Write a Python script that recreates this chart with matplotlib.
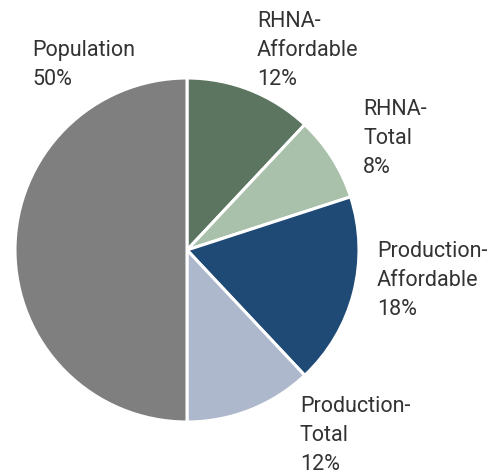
import matplotlib
matplotlib.use("Agg")
import matplotlib.pyplot as plt

# Share of each component (percent), clockwise from 12 o'clock
names = ["RHNA-\nAffordable", "RHNA-\nTotal", "Production-\nAffordable",
         "Production-\nTotal", "Population"]
shares = [12, 8, 18, 12, 50]
colors = ["#5b7560", "#a9c1ab", "#1f4a75", "#adb8cc", "#7f7f7f"]

# label anchor (last-line baseline) in pixel coords of the 498x474 image
label_px = [(257, 85), (363, 173), (377, 315), (300, 470), (32, 85)]

plt.rcParams['font.family'] = ['Roboto', 'DejaVu Sans']

W, H = 498, 474
cx, cy, r = 187, 250, 172

fig = plt.figure(figsize=(W / 100, H / 100), dpi=100)
ax = fig.add_axes([0, 0, 1, 1])
ax.pie(shares, colors=colors, startangle=90, counterclock=False,
       radius=1, center=(0, 0),
       wedgeprops=dict(edgecolor="white", linewidth=2.2))
ax.set_xlim(-cx / r, (W - cx) / r)
ax.set_ylim(-(H - cy) / r, cy / r)
ax.set_aspect("equal")
ax.axis("off")

for name, share, (px, py) in zip(names, shares, label_px):
    ax.text((px - cx) / r, (cy - py) / r, f"{name}\n{share}%",
            ha="left", va="baseline", fontsize=15.5, color="#333333",
            linespacing=1.5)

fig.savefig("out.png", dpi=100)
